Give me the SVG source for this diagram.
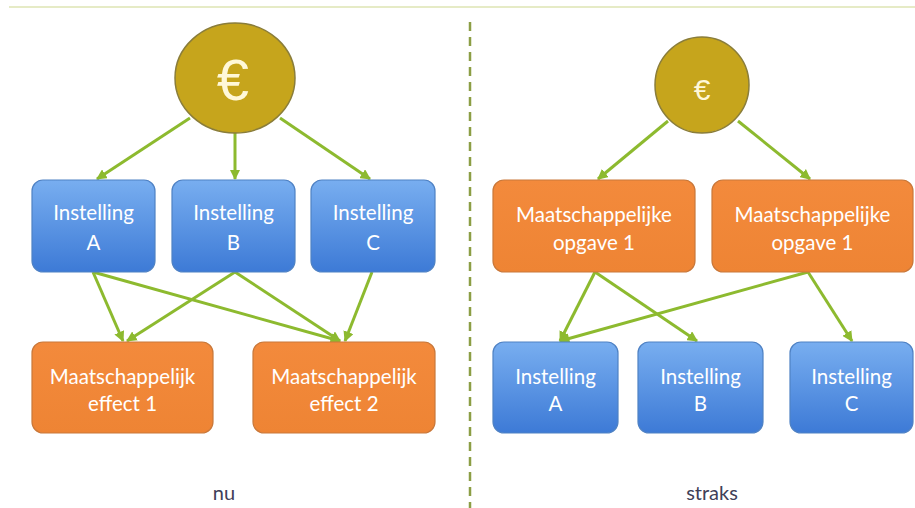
<svg xmlns="http://www.w3.org/2000/svg" width="915" height="508" viewBox="0 0 915 508">
<defs>
<linearGradient id="blue" x1="0" y1="0" x2="0" y2="1">
<stop offset="0" stop-color="#78aef0"/>
<stop offset="1" stop-color="#3d7ad6"/>
</linearGradient>
<linearGradient id="orange" x1="0" y1="0" x2="0" y2="1">
<stop offset="0" stop-color="#f38a3c"/>
<stop offset="1" stop-color="#ee8434"/>
</linearGradient>
<marker id="arr" viewBox="0 0 10 10" refX="9" refY="5" markerWidth="3.5" markerHeight="3.5" orient="auto-start-reverse" markerUnits="strokeWidth">
<path d="M0,0 L10,5 L0,10 z" fill="#8dba2f"/>
</marker>
</defs>
<style>
.blue{fill:url(#blue);stroke:#4f82c4;stroke-width:1.2}
.org{fill:url(#orange);stroke:#c9783a;stroke-width:1.2}
.coin{fill:#c6a51c;stroke:#8a7d3a;stroke-width:1.5}
.t{font-family:Lato,"Open Sans","Liberation Sans",sans-serif;fill:#ffffff;font-size:20.5px;text-anchor:middle}
.lbl{font-family:Lato,"Open Sans","Liberation Sans",sans-serif;fill:#404058;font-size:20px;text-anchor:middle}
.e{font-family:"Liberation Sans","DejaVu Sans",sans-serif;fill:#fff8d8;text-anchor:middle}
.c line{stroke:#8dba2f;stroke-width:3;marker-end:url(#arr)}
</style>
<rect width="915" height="508" fill="#ffffff"/>
<line x1="9" y1="7" x2="915" y2="7" stroke="#e6ebc6" stroke-width="2"/>
<line x1="470" y1="22" x2="470" y2="508" stroke="#8c9e45" stroke-width="2.5" stroke-dasharray="9,6"/>

<g class="c">
<line x1="190" y1="118" x2="97" y2="179"/>
<line x1="235" y1="132" x2="235" y2="179"/>
<line x1="280" y1="118" x2="370" y2="179"/>
<line x1="93" y1="272" x2="123" y2="341"/>
<line x1="93" y1="272" x2="340" y2="341"/>
<line x1="235" y1="272" x2="127" y2="341"/>
<line x1="235" y1="272" x2="340" y2="341"/>
<line x1="372" y1="272" x2="345" y2="341"/>
<line x1="668" y1="121" x2="598" y2="179"/>
<line x1="738" y1="121" x2="810" y2="179"/>
<line x1="595" y1="272" x2="560" y2="341"/>
<line x1="595" y1="272" x2="697" y2="341"/>
<line x1="808" y1="272" x2="560" y2="341"/>
<line x1="808" y1="272" x2="852" y2="341"/>
</g>

<g id="euro-nu">
<ellipse class="coin" cx="235" cy="78" rx="60" ry="55"/>
<text class="e" x="233" y="100" font-size="58">€</text>
</g>
<g id="nu-inst-a">
<rect class="blue" x="32" y="180" width="123" height="92" rx="11"/>
<text class="t" x="93.5" y="220">Instelling</text>
<text class="t" x="93.5" y="250">A</text>
</g>
<g id="nu-inst-b">
<rect class="blue" x="172" y="180" width="123" height="92" rx="11"/>
<text class="t" x="233.5" y="220">Instelling</text>
<text class="t" x="233.5" y="250">B</text>
</g>
<g id="nu-inst-c">
<rect class="blue" x="311" y="180" width="124" height="92" rx="11"/>
<text class="t" x="373" y="220">Instelling</text>
<text class="t" x="373" y="250">C</text>
</g>
<g id="nu-effect-1">
<rect class="org" x="32" y="342" width="181" height="91" rx="11"/>
<text class="t" x="122.5" y="384">Maatschappelijk</text>
<text class="t" x="122.5" y="411">effect 1</text>
</g>
<g id="nu-effect-2">
<rect class="org" x="253" y="342" width="182" height="91" rx="11"/>
<text class="t" x="344" y="384">Maatschappelijk</text>
<text class="t" x="344" y="411">effect 2</text>
</g>
<g id="label-nu"><text class="lbl" x="224" y="500">nu</text></g>

<g id="euro-straks">
<ellipse class="coin" cx="702" cy="85" rx="47" ry="48"/>
<text class="e" x="702" y="100" font-size="30">€</text>
</g>
<g id="straks-opgave-1">
<rect class="org" x="493" y="180" width="202" height="92" rx="11"/>
<text class="t" x="594" y="222">Maatschappelijke</text>
<text class="t" x="594" y="250">opgave 1</text>
</g>
<g id="straks-opgave-2">
<rect class="org" x="712" y="180" width="201" height="92" rx="11"/>
<text class="t" x="812.5" y="222">Maatschappelijke</text>
<text class="t" x="812.5" y="250">opgave 1</text>
</g>
<g id="straks-inst-a">
<rect class="blue" x="493" y="342" width="125" height="91" rx="11"/>
<text class="t" x="555.5" y="384">Instelling</text>
<text class="t" x="555.5" y="411">A</text>
</g>
<g id="straks-inst-b">
<rect class="blue" x="638" y="342" width="125" height="91" rx="11"/>
<text class="t" x="700.5" y="384">Instelling</text>
<text class="t" x="700.5" y="411">B</text>
</g>
<g id="straks-inst-c">
<rect class="blue" x="790" y="342" width="123" height="91" rx="11"/>
<text class="t" x="851.5" y="384">Instelling</text>
<text class="t" x="851.5" y="411">C</text>
</g>
<g id="label-straks"><text class="lbl" x="712" y="500">straks</text></g>
</svg>
